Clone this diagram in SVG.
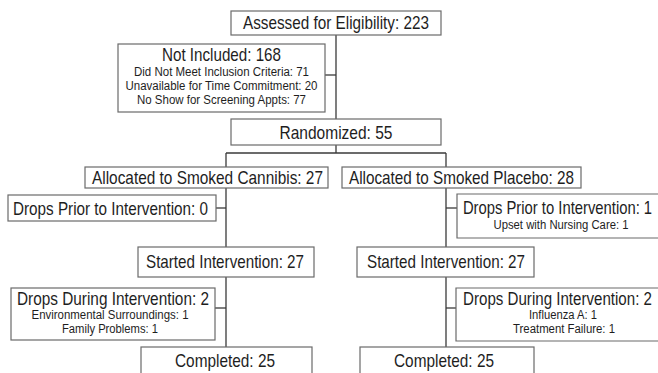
<svg xmlns="http://www.w3.org/2000/svg" width="658" height="373" viewBox="0 0 658 373">
<style>
rect.box{fill:#fff;stroke:#6a6a6a;stroke-width:1.2}
path.open{fill:#fff;stroke:#6a6a6a;stroke-width:1.2}
text{font-family:"Liberation Sans",Arial,sans-serif;fill:#1e1e1e;text-anchor:middle}
.big{font-size:18.5px}
.sm{font-size:12.5px}
#connectors line{stroke:#3a3a3a;stroke-width:1.3}
</style>
<rect width="658" height="373" fill="#fff"/>
<g id="connectors">
<line x1="336" y1="35" x2="336" y2="119"/>
<line x1="325" y1="75" x2="336" y2="75"/>
<line x1="336" y1="145" x2="336" y2="153"/>
<line x1="226" y1="153" x2="446" y2="153"/>
<line x1="226" y1="153" x2="226" y2="167"/>
<line x1="446" y1="153" x2="446" y2="167"/>
<line x1="226" y1="188" x2="226" y2="247"/>
<line x1="446" y1="188" x2="446" y2="247"/>
<line x1="216" y1="208" x2="226" y2="208"/>
<line x1="446" y1="208" x2="457" y2="208"/>
<line x1="226" y1="277" x2="226" y2="347"/>
<line x1="446" y1="277" x2="446" y2="347"/>
<line x1="215" y1="308" x2="226" y2="308"/>
<line x1="446" y1="308" x2="456" y2="308"/>
</g>
<g id="assessed">
<rect class="box" x="231" y="11" width="210" height="24"/>
<text class="big" x="336" y="29" textLength="186" lengthAdjust="spacingAndGlyphs">Assessed for Eligibility: 223</text>
</g>
<g id="not-included">
<rect class="box" x="118" y="44" width="207" height="68"/>
<text class="big" x="221.5" y="61" textLength="119" lengthAdjust="spacingAndGlyphs">Not Included: 168</text>
<text class="sm" x="221.5" y="76" textLength="175" lengthAdjust="spacingAndGlyphs">Did Not Meet Inclusion Criteria: 71</text>
<text class="sm" x="221.5" y="90" textLength="192" lengthAdjust="spacingAndGlyphs">Unavailable for Time Commitment: 20</text>
<text class="sm" x="221.5" y="104" textLength="169" lengthAdjust="spacingAndGlyphs">No Show for Screening Appts: 77</text>
</g>
<g id="randomized">
<rect class="box" x="231" y="119" width="210" height="26"/>
<text class="big" x="336" y="139" textLength="113" lengthAdjust="spacingAndGlyphs">Randomized: 55</text>
</g>
<g id="alloc-cannabis">
<rect class="box" x="85" y="167" width="243" height="21"/>
<text class="big" x="207.5" y="184" textLength="231" lengthAdjust="spacingAndGlyphs">Allocated to Smoked Cannibis: 27</text>
</g>
<g id="alloc-placebo">
<rect class="box" x="342" y="167" width="239" height="21"/>
<text class="big" x="461.5" y="184" textLength="225" lengthAdjust="spacingAndGlyphs">Allocated to Smoked Placebo: 28</text>
</g>
<g id="drops-prior-cannabis">
<rect class="box" x="8" y="195" width="208" height="26"/>
<text class="big" x="110.5" y="215" textLength="195" lengthAdjust="spacingAndGlyphs">Drops Prior to Intervention: 0</text>
</g>
<g id="drops-prior-placebo">
<path class="open" d="M658,194 H457 V238 H658"/>
<text class="big" transform="translate(557.5,214) scale(0.8,1)">Drops Prior to Intervention: 1</text>
<text class="sm" x="561" y="229" textLength="135" lengthAdjust="spacingAndGlyphs">Upset with Nursing Care: 1</text>
</g>
<g id="started-cannabis">
<rect class="box" x="138" y="247" width="176" height="30"/>
<text class="big" x="225" y="268" textLength="158" lengthAdjust="spacingAndGlyphs">Started Intervention: 27</text>
</g>
<g id="started-placebo">
<rect class="box" x="357" y="247" width="177" height="30"/>
<text class="big" x="446" y="268" textLength="158" lengthAdjust="spacingAndGlyphs">Started Intervention: 27</text>
</g>
<g id="drops-during-cannabis">
<rect class="box" x="11" y="288" width="204" height="52"/>
<text class="big" x="113" y="305" textLength="192" lengthAdjust="spacingAndGlyphs">Drops During Intervention: 2</text>
<text class="sm" x="110" y="319" textLength="157" lengthAdjust="spacingAndGlyphs">Environmental Surroundings: 1</text>
<text class="sm" x="110" y="333" textLength="96" lengthAdjust="spacingAndGlyphs">Family Problems: 1</text>
</g>
<g id="drops-during-placebo">
<path class="open" d="M658,288 H456 V341 H658"/>
<text class="big" transform="translate(557.5,305) scale(0.817,1)">Drops During Intervention: 2</text>
<text class="sm" x="563" y="319" textLength="68" lengthAdjust="spacingAndGlyphs">Influenza A: 1</text>
<text class="sm" x="564" y="333" textLength="102" lengthAdjust="spacingAndGlyphs">Treatment Failure: 1</text>
</g>
<g id="completed-cannabis">
<rect class="box" x="141" y="347" width="171" height="35"/>
<text class="big" x="225" y="367" textLength="100" lengthAdjust="spacingAndGlyphs">Completed: 25</text>
</g>
<g id="completed-placebo">
<rect class="box" x="360" y="347" width="174" height="35"/>
<text class="big" x="444" y="367" textLength="100" lengthAdjust="spacingAndGlyphs">Completed: 25</text>
</g>
</svg>
